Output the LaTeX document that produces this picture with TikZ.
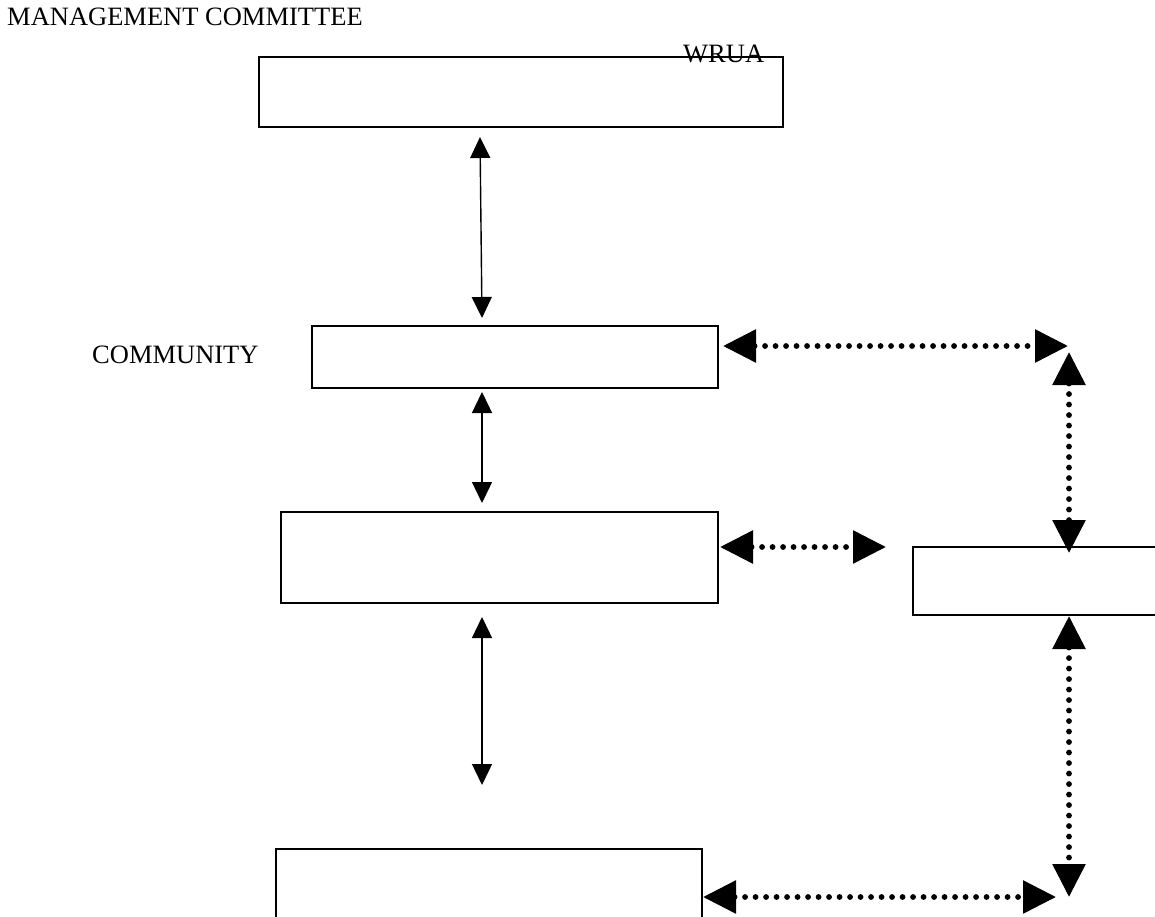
\documentclass[tikz,border=0pt]{standalone}
\usepackage{fontspec}
\setmainfont{Liberation Serif}
\usetikzlibrary{arrows.meta}
\tikzset{
  box/.style={draw, line width=1.4pt, inner sep=0pt},
  lbl/.style={anchor=base west, inner sep=0pt, font=\fontsize{26.5}{30}\selectfont},
  solidarr/.style={line width=1.4pt, {Triangle[length=21pt,width=20pt]}-{Triangle[length=21pt,width=20pt]}},
  dotarr/.style={line width=5.8pt, line cap=round, dash pattern=on 0pt off 10.5pt,
     {Triangle[length=33pt,width=32pt]}-{Triangle[length=33pt,width=32pt]}}
}
\begin{document}
\begin{tikzpicture}[x=1pt,y=1pt]
\clip (0,0) rectangle (1155,-917);
\fill[white] (0,0) rectangle (1155,-917);
% boxes
\node[box, minimum width=524pt, minimum height=70pt] (wrua) at (521,-92) {};
\node[box, minimum width=406pt, minimum height=62pt] (community) at (515,-357) {};
\node[box, minimum width=437pt, minimum height=91pt] (third) at (499.5,-557.5) {};
\node[box, minimum width=245pt, minimum height=68pt] (right) at (1035.5,-581) {};
\node[box, minimum width=426pt, minimum height=71pt] (bottom) at (489,-884.5) {};
% texts
\node[lbl] (mc) at (7,-26) {MANAGEMENT COMMITTEE};
\node[lbl] (wl) at (683,-63) {WRUA};
\node[lbl] (cl) at (92,-363) {COMMUNITY};
% connector end points
\coordinate (a1s) at (480,-137); \coordinate (a1e) at (482,-318);
\coordinate (a2s) at (482,-392); \coordinate (a2e) at (482,-503);
\coordinate (a3s) at (482,-617); \coordinate (a3e) at (482,-785);
\coordinate (d1s) at (723,-346); \coordinate (d1e) at (1068,-346);
\coordinate (d2s) at (1069,-352); \coordinate (d2e) at (1069,-553);
\coordinate (d3s) at (720,-547); \coordinate (d3e) at (886,-547);
\coordinate (d4s) at (1069,-616); \coordinate (d4e) at (1069,-897);
\coordinate (d5s) at (703,-897); \coordinate (d5e) at (1056,-897);
% solid arrows
\draw[solidarr] (a1s) -- (a1e);
\draw[solidarr] (a2s) -- (a2e);
\draw[solidarr] (a3s) -- (a3e);
% dotted arrows
\draw[dotarr] (d1s) -- (d1e);
\draw[dotarr] (d2s) -- (d2e);
\draw[dotarr] (d3s) -- (d3e);
\draw[dotarr] (d4s) -- (d4e);
\draw[dotarr] (d5s) -- (d5e);
\end{tikzpicture}
\end{document}
